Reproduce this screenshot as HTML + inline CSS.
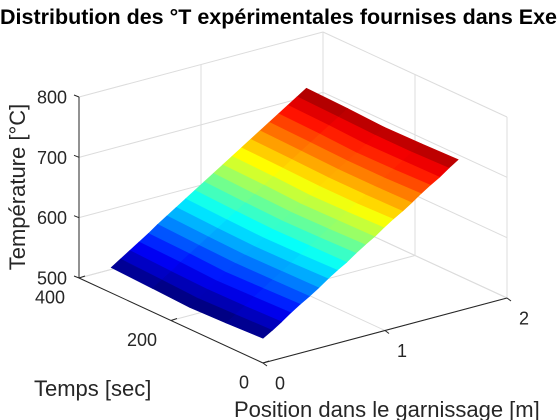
<!DOCTYPE html>
<html><head><meta charset="utf-8"><style>
html,body{margin:0;padding:0;background:#fff;}
svg{display:block;font-family:"Liberation Sans",Arial,sans-serif;}
</style></head><body>
<svg id="chart" width="560" height="420" viewBox="0 0 560 420" xmlns="http://www.w3.org/2000/svg">
<text x="0" y="24" font-size="21.5" font-weight="bold" fill="#000">Distribution des °T expérimentales fournises dans Exe</text>
<g id="grid"></g>
<g id="surf"></g>
<g id="axes"></g>
<text transform="translate(25,187) rotate(-90)" text-anchor="middle" font-size="22" fill="#262626">Température [°C]</text>
<text x="34" y="396" font-size="22" fill="#262626">Temps [sec]</text>
<text x="234" y="417" font-size="22" fill="#262626">Position dans le garnissage [m]</text>
</svg>
<script>
const positions = [0,0.0762,0.1524,0.2286,0.3048,0.381,0.4571,0.5333,0.6095,0.6857,0.7619,0.8381,0.9143,0.9905,1.0667,1.1429,1.219,1.2952,1.3714,1.4476,1.5238,1.6];
const times = [0,80,160,240,330];
const tempRow0 = [541,550,560,571,581,590,600,611,621,630,641,651,660,671,681,690,700,711,721,730,741,751];
const tempRow1 = [538,548,558,569,579,589,599,609,619,629,639,649,659,669,679,689,699,709,719,729,739,749];
const tempRow2 = [536,546,557,567,577,588,598,608,618,628,638,648,658,668,679,689,699,709,718,728,739,748];
const tempRow3 = [539,549,559,570,580,590,600,610,620,630,640,650,661,671,681,691,701,711,721,731,741,751];
const tempRow4 = [542,552,562,572,582,593,603,613,623,633,643,653,663,673,683,693,703,713,723,733,743,753];
const temps = [tempRow0,tempRow1,tempRow2,tempRow3,tempRow4];
const posTicks = [0,1,2];
const timeTicks = [0,200,400];
const zTicks = [500,600,700,800];

const NS='http://www.w3.org/2000/svg';
function P(p,t,z){return [263+122*p-0.46*t, 363-32.5*p-0.2125*t-(z-500)*181/300];}
function mk(tag,attrs,parent){const e=document.createElementNS(NS,tag);for(const k in attrs)e.setAttribute(k,attrs[k]);parent.appendChild(e);return e;}
function line(a,b,col,w,parent,name){const l=mk('line',{x1:a[0],y1:a[1],x2:b[0],y2:b[1],stroke:col,'stroke-width':w},parent);


return l;}
function jet(x){const c=v=>Math.round(255*Math.max(0,Math.min(1,v)));return `rgb(${c(1.5-Math.abs(4*x-3))},${c(1.5-Math.abs(4*x-2))},${c(1.5-Math.abs(4*x-1))})`;}

const grid=document.getElementById('grid');
const gc='#dcdcdc';
zTicks.forEach(z=>{line(P(0,400,z),P(2,400,z),gc,1,grid,'grid-z-back');line(P(2,400,z),P(2,0,z),gc,1,grid,'grid-z-side');});
posTicks.forEach(p=>{line(P(p,400,500),P(p,400,800),gc,1,grid,'grid-pos-back');line(P(p,0,500),P(p,400,500),gc,1,grid,'grid-pos-floor');});
timeTicks.forEach(t=>{line(P(2,t,500),P(2,t,800),gc,1,grid,'grid-time-side');line(P(0,t,500),P(2,t,500),gc,1,grid,'grid-time-floor');});

const surf=document.getElementById('surf');
let all=[].concat(...temps);const mn=Math.min(...all),mx=Math.max(...all);
const faces=[];
for(let i=0;i<times.length-1;i++)for(let j=0;j<positions.length-1;j++){
  faces.push({i,j,d:positions[j]/2+times[i]/400});
}
faces.sort((a,b)=>b.d-a.d);
faces.forEach(f=>{
  const {i,j}=f;
  const pts=[P(positions[j],times[i],temps[i][j]),P(positions[j+1],times[i],temps[i][j+1]),P(positions[j+1],times[i+1],temps[i+1][j+1]),P(positions[j],times[i+1],temps[i+1][j])];
  const v=(temps[i][j]+temps[i+1][j])/2;
  const col=jet((v-mn)/(mx-mn));
  const poly=mk('polygon',{points:pts.map(p=>p.join(',')).join(' '),fill:col,stroke:col,'stroke-width':0.6},surf);
  
  
});

const ax=document.getElementById('axes');
const ac='#262626';
line(P(0,400,500),P(0,400,800),ac,1,ax,'z-axis-line');
line(P(0,0,500),P(0,400,500),ac,1,ax,'time-axis-line');
line(P(0,0,500),P(2,0,500),ac,1,ax,'position-axis-line');
zTicks.forEach(z=>{const a=P(0,400,z);line(a,[a[0]-5,a[1]-2],ac,1,ax,'z-tick');
  const t=mk('text',{x:a[0]-12,y:a[1]+6.5,'text-anchor':'end','font-size':18,fill:ac},ax);t.textContent=z;
  
  });
timeTicks.forEach(tt=>{const a=P(0,tt,500);line(a,[a[0]+6,a[1]-2],ac,1,ax,'time-tick');
  const t=mk('text',{x:a[0]-14,y:a[1]+25.5,'text-anchor':'end','font-size':18,fill:ac},ax);t.textContent=tt;
  
  });
posTicks.forEach(p=>{const a=P(p,0,500);line(a,[a[0]+4,a[1]+3],ac,1,ax,'position-tick');
  const t=mk('text',{x:a[0]+12,y:a[1]+26.5,'text-anchor':'start','font-size':18,fill:ac},ax);t.textContent=p;
  
  });
</script>
</body></html>
